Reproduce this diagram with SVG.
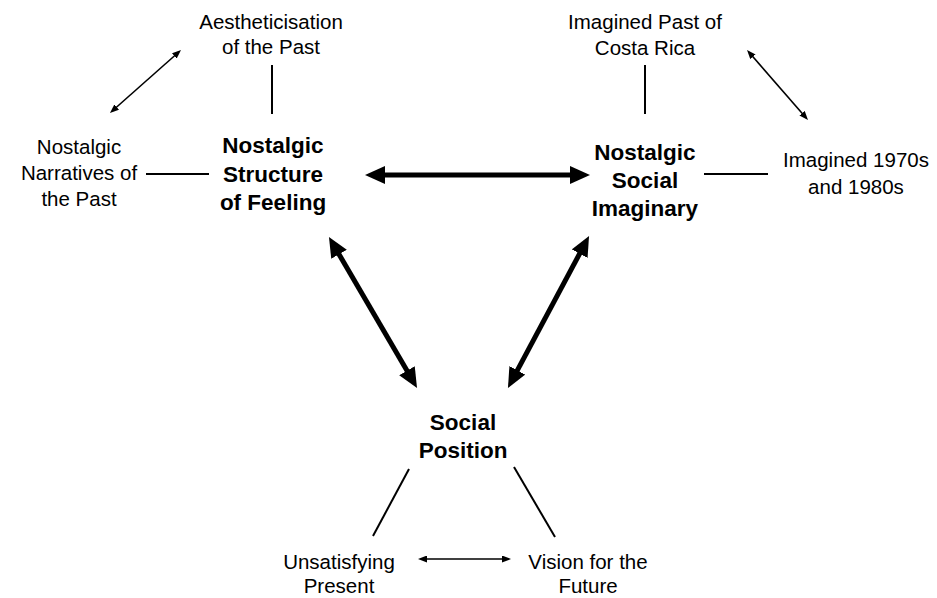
<svg xmlns="http://www.w3.org/2000/svg" width="937" height="598" viewBox="0 0 937 598">
  <defs>
    <style>
      .lbl { font-family: "Liberation Sans", Arial, Helvetica, sans-serif; font-size: 20.5px; fill: #000; text-anchor: middle; }
      .key { font-family: "Liberation Sans", Arial, Helvetica, sans-serif; font-size: 22.5px; font-weight: bold; fill: #000; text-anchor: middle; }
      .link { stroke: #000; stroke-width: 2; fill: none; }
      .thin { stroke: #000; stroke-width: 1.6; fill: none; marker-start: url(#headS); marker-end: url(#headS); }
      .bold { stroke: #000; stroke-width: 5; fill: none; marker-start: url(#headL); marker-end: url(#headL); }
    </style>
    <marker id="headL" markerUnits="userSpaceOnUse" markerWidth="20" markerHeight="18" refX="8" refY="9" orient="auto-start-reverse" viewBox="0 0 20 18">
      <path d="M0,0 L20,9 L0,18 z" fill="#000"/>
    </marker>
    <marker id="headS" markerUnits="userSpaceOnUse" markerWidth="9" markerHeight="7" refX="6" refY="3.5" orient="auto-start-reverse" viewBox="0 0 9 7">
      <path d="M0,0 L9,3.5 L0,7 z" fill="#000"/>
    </marker>
  </defs>
  <rect width="937" height="598" fill="#fff"/>

  <g id="connectors">
    <!-- plain links between hubs and their satellites -->
    <line class="link" x1="272" y1="65" x2="272" y2="114"/>
    <line class="link" x1="146" y1="174" x2="209" y2="174"/>
    <line class="link" x1="645" y1="65" x2="645" y2="114"/>
    <line class="link" x1="704" y1="174" x2="768" y2="174"/>
    <line class="link" x1="409" y1="469" x2="373" y2="536"/>
    <line class="link" x1="514" y1="467" x2="555" y2="537"/>
    <!-- thin two-way arrows between satellites -->
    <line class="thin" x1="112.2" y1="111" x2="178.8" y2="52"/>
    <line class="thin" x1="749" y1="52.3" x2="806" y2="117.7"/>
    <line class="thin" x1="421" y1="559" x2="508" y2="559"/>
    <!-- heavy two-way arrows between the three hubs -->
    <line class="bold" x1="377" y1="175" x2="578" y2="175"/>
    <line class="bold" x1="335" y1="247.4" x2="411" y2="377.6"/>
    <line class="bold" x1="583.4" y1="246.6" x2="513.6" y2="377.4"/>
  </g>

  <g id="structure-of-feeling">
    <text class="key" x="273" y="153">Nostalgic</text>
    <text class="key" x="273" y="182">Structure</text>
    <text class="key" x="273" y="210">of Feeling</text>
  </g>
  <g id="social-imaginary">
    <text class="key" x="645" y="160">Nostalgic</text>
    <text class="key" x="645" y="188">Social</text>
    <text class="key" x="645" y="216">Imaginary</text>
  </g>
  <g id="social-position">
    <text class="key" x="463" y="430">Social</text>
    <text class="key" x="463" y="458">Position</text>
  </g>
  <g id="aestheticisation">
    <text class="lbl" x="271" y="29">Aestheticisation</text>
    <text class="lbl" x="271" y="54">of the Past</text>
  </g>
  <g id="narratives">
    <text class="lbl" x="79" y="154">Nostalgic</text>
    <text class="lbl" x="79" y="180">Narratives of</text>
    <text class="lbl" x="79" y="206">the Past</text>
  </g>
  <g id="imagined-past">
    <text class="lbl" x="645" y="29">Imagined Past of</text>
    <text class="lbl" x="645" y="55">Costa Rica</text>
  </g>
  <g id="imagined-decades">
    <text class="lbl" x="856" y="167">Imagined 1970s</text>
    <text class="lbl" x="856" y="194">and 1980s</text>
  </g>
  <g id="present">
    <text class="lbl" x="339" y="569">Unsatisfying</text>
    <text class="lbl" x="339" y="593">Present</text>
  </g>
  <g id="future">
    <text class="lbl" x="588" y="569">Vision for the</text>
    <text class="lbl" x="588" y="593">Future</text>
  </g>
</svg>
